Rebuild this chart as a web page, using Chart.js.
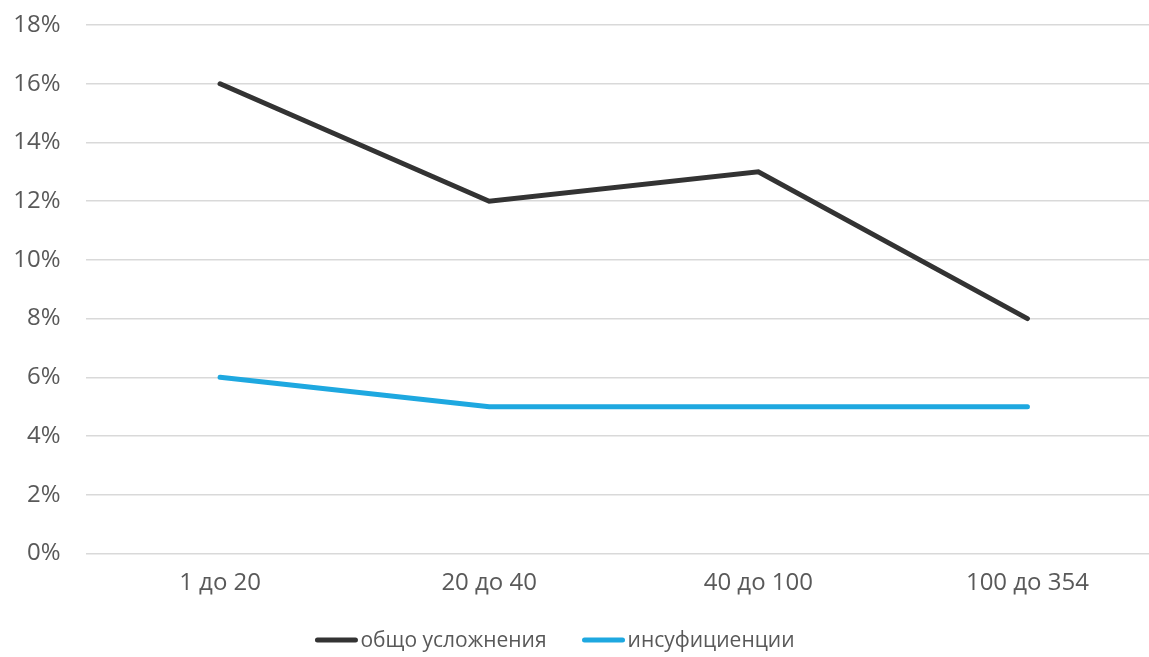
<!DOCTYPE html>
<html>
<head>
<meta charset="utf-8">
<script src="https://cdn.jsdelivr.net/npm/chart.js@4/dist/chart.umd.min.js"></script>
<style>
  html, body { margin: 0; padding: 0; background: #fff; overflow: hidden; }
  #wrap { width: 1162px; height: 657px; position: relative; }
  #c { display: block; }
</style>
</head>
<body>
<div id="wrap"><canvas id="c"></canvas></div>
<script>
// Categories and series (percent values)
const categories = ['1 до 20', '20 до 40', '40 до 100', '100 до 354'];
const totalComplications = [16, 12, 13, 8];
const insufficiencies = [6, 5, 5, 5];
const seriesNames = ['общо усложнения', 'инсуфициенции'];
const yTicks = [0, 2, 4, 6, 8, 10, 12, 14, 16, 18];

const FONT = '"Open Sans", "Noto Sans", sans-serif';
const TEXT = '#595959';

// Legend drawn below the plot: short line sample followed closely by its label
const bottomLegend = {
  id: 'bottomLegend',
  afterDraw(chart) {
    const ctx = chart.ctx;
    const y = 640;
    const lineLen = 42, gapText = 3, gapItem = 36;
    ctx.save();
    ctx.font = '21px ' + FONT;
    const items = chart.data.datasets.map(ds => ({
      label: ds.label, color: ds.borderColor, w: ctx.measureText(ds.label).width
    }));
    const total = items.reduce((s, it) => s + lineLen + gapText + it.w, 0) + gapItem * (items.length - 1);
    let x = 555 - total / 2;
    items.forEach(it => {
      ctx.strokeStyle = it.color;
      ctx.lineWidth = 5;
      ctx.lineCap = 'round';
      ctx.beginPath();
      ctx.moveTo(x + 2, y);
      ctx.lineTo(x + lineLen - 2, y);
      ctx.stroke();
      ctx.fillStyle = TEXT;
      ctx.textBaseline = 'middle';
      ctx.textAlign = 'left';
      ctx.fillText(it.label, x + lineLen + gapText, y + 1);
      x += lineLen + gapText + it.w + gapItem;
    });
    ctx.restore();
  }
};

new Chart(document.getElementById('c'), {
  type: 'line',
  data: {
    labels: categories,
    datasets: [
      {
        label: seriesNames[0],
        data: totalComplications,
        borderColor: '#333333',
        backgroundColor: '#333333',
        borderWidth: 5,
        borderCapStyle: 'round',
        pointRadius: 0,
        tension: 0
      },
      {
        label: seriesNames[1],
        data: insufficiencies,
        borderColor: '#1ea8e0',
        backgroundColor: '#1ea8e0',
        borderWidth: 5,
        borderCapStyle: 'round',
        pointRadius: 0,
        tension: 0
      }
    ]
  },
  options: {
    responsive: true,
    maintainAspectRatio: false,
    animation: false,
    layout: { padding: { top: 25, right: 0, bottom: 50, left: 0 } },
    plugins: { legend: { display: false }, tooltip: { enabled: false } },
    scales: {
      x: {
        offset: true,
        grid: { display: false, drawTicks: false },
        border: { display: false },
        ticks: { color: TEXT, font: { family: FONT, size: 24 }, padding: 15, maxRotation: 0 },
        afterFit(scale) { scale.height = 53.5; }
      },
      y: {
        min: 0,
        max: 18,
        afterBuildTicks(scale) { scale.ticks = yTicks.map(v => ({ value: v })); },
        grid: { color: '#d9d9d9', lineWidth: 1.5, drawTicks: false },
        border: { display: false },
        ticks: {
          color: TEXT,
          font: { family: FONT, size: 24 },
          padding: 25,
          callback: v => v + '%'
        },
        afterFit(scale) {
          scale.width = 85.5;
          scale.paddingTop = 0;
          scale.paddingBottom = 0;
        }
      }
    }
  },
  plugins: [bottomLegend]
});
</script>
</body>
</html>
